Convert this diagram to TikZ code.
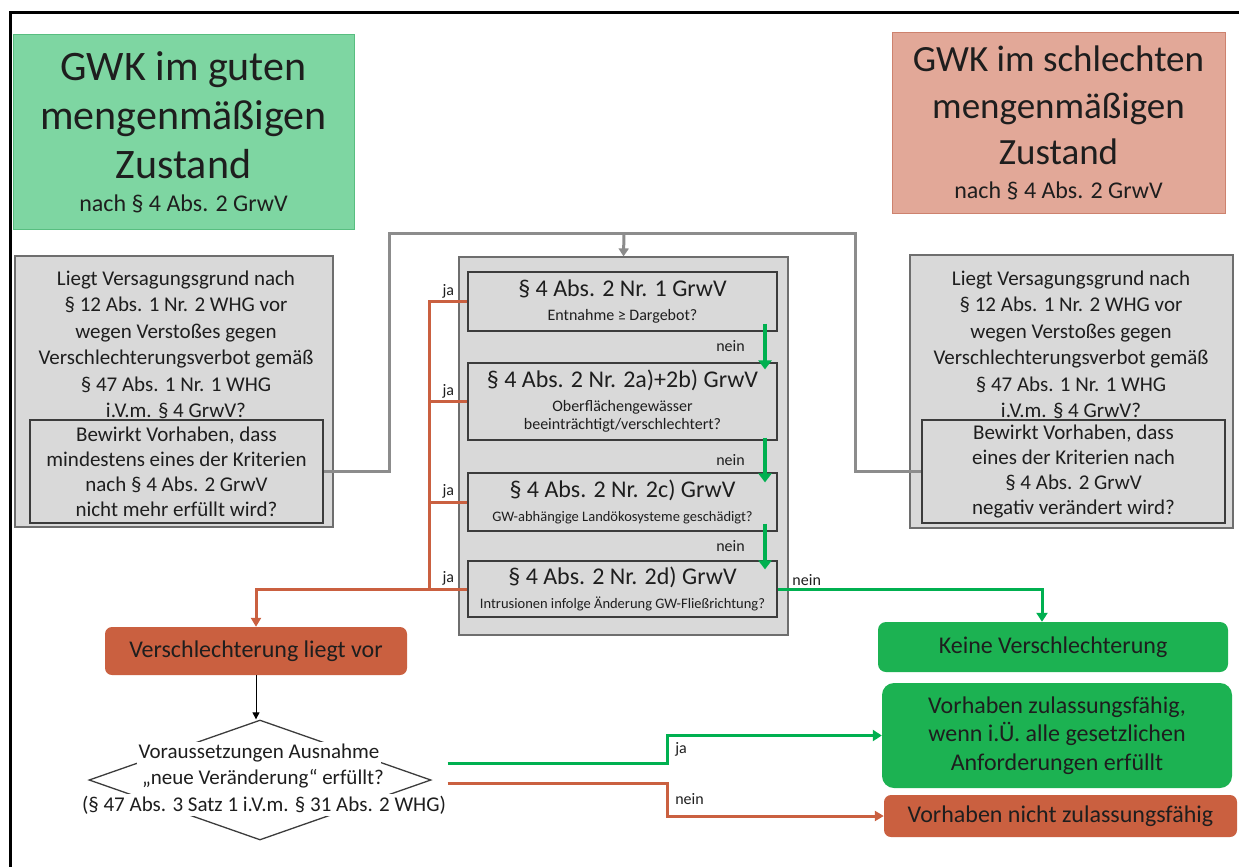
\documentclass[tikz,border=0pt]{standalone}
\usepackage{fontspec}
\setmainfont{Carlito}
\usetikzlibrary{arrows.meta,shapes.geometric}

\definecolor{ink}{RGB}{30,30,30}
\definecolor{gutfill}{RGB}{126,214,162}
\definecolor{gutline}{RGB}{88,190,128}
\definecolor{badfill}{RGB}{226,168,152}
\definecolor{badline}{RGB}{205,130,110}
\definecolor{boxgrey}{RGB}{217,217,217}
\definecolor{boxline}{RGB}{110,110,110}
\definecolor{qline}{RGB}{60,60,60}
\definecolor{conngrey}{RGB}{140,140,140}
\definecolor{okgreen}{RGB}{0,176,80}
\definecolor{okfill}{RGB}{28,178,82}
\definecolor{norange}{RGB}{202,96,64}

\newcommand\fstitle{\fontsize{42}{49}\selectfont}
\newcommand\fstitler{\fontsize{37}{46.5}\selectfont}
\newcommand\fsnach{\fontsize{24}{29}\selectfont}
\newcommand\fsgrey{\fontsize{21}{26.5}\selectfont}
\newcommand\fsques{\fontsize{21}{25}\selectfont}
\newcommand\fsmid{\fontsize{24}{29}\selectfont}
\newcommand\fsres{\fontsize{24}{28.5}\selectfont}
\newcommand\fssub{\fontsize{16}{18}\selectfont}
\newcommand\fstiny{\fontsize{14.5}{17}\selectfont}
\newcommand\fslbl{\fontsize{16}{19}\selectfont}

\begin{document}
\begin{tikzpicture}[x=1pt,y=-1pt,
  every node/.style={text=ink, align=center, inner sep=0pt},
  greybox/.style={draw=boxline, fill=boxgrey, line width=1.2pt},
  qbox/.style={draw=qline, fill=boxgrey, line width=1.2pt, font=\fsques},
  checkbox/.style={draw=qline, fill=boxgrey, line width=1.2pt, font=\fssub,
    minimum width=309pt},
  lbl/.style={font=\fslbl, inner sep=2pt},
  okbox/.style={fill=okfill, rounded corners=8pt, font=\fsres},
  nobox/.style={fill=norange, rounded corners=7pt, font=\fsmid},
  gline/.style={draw=conngrey, line width=3pt},
  oline/.style={draw=norange, line width=3pt},
  okline/.style={draw=okgreen, line width=3pt, -{Triangle[width=11pt,length=9pt]}},
  noline/.style={draw=norange, line width=3pt, -{Triangle[width=10pt,length=9pt]}},
  garrow/.style={draw=okgreen, line width=4.5pt, -{Triangle[width=13pt,length=9pt]}},
  dline/.style={fill=white, inner sep=2pt, font=\fsgrey}
]
\useasboundingbox (0,0) rectangle (1239,867);
% frame (cut at the right and at the bottom)
\draw[line width=3pt] (1250,13) -- (10,13) -- (10,880);

% the two states
\node[draw=gutline, fill=gutfill, line width=1pt, minimum width=341pt,
  minimum height=194pt, font=\fstitle] (gut) at (183.5,132)
  {GWK im guten\\mengenmäßigen\\Zustand\\[-16pt]{\fsnach nach § 4 Abs. 2 GrwV}};
\node[draw=badline, fill=badfill, line width=1pt, minimum width=333pt,
  minimum height=180pt, font=\fstitler] (bad) at (1058.5,123)
  {GWK im schlechten\\mengenmäßigen\\Zustand\\[-13pt]{\fsnach nach § 4 Abs. 2 GrwV}};

% left question
\node[greybox, minimum width=318pt, minimum height=271pt] (lbox) at (174,391.5) {};
\node[font=\fsgrey] (ltext) at (176,345) {Liegt Versagungsgrund nach\\§ 12 Abs. 1 Nr. 2 WHG vor\\wegen
  Verstoßes gegen\\Verschlechterungsverbot gemäß\\§ 47 Abs. 1 Nr. 1 WHG\\i.V.m. § 4 GrwV?};
\node[qbox, minimum width=293pt, minimum height=103pt] (lq) at (176.5,471.5)
  {Bewirkt Vorhaben, dass\\mindestens eines der Kriterien\\nach § 4 Abs. 2 GrwV\\nicht mehr erfüllt wird?};

% right question
\node[greybox, minimum width=323pt, minimum height=273pt] (rbox) at (1071.5,391.5) {};
\node[font=\fsgrey] (rtext) at (1071,345) {Liegt Versagungsgrund nach\\§ 12 Abs. 1 Nr. 2 WHG vor\\wegen
  Verstoßes gegen\\Verschlechterungsverbot gemäß\\§ 47 Abs. 1 Nr. 1 WHG\\i.V.m. § 4 GrwV?};
\node[qbox, minimum width=303pt, minimum height=103pt] (rq) at (1073.5,471.5)
  {Bewirkt Vorhaben, dass\\eines der Kriterien nach\\§ 4 Abs. 2 GrwV\\negativ verändert wird?};

% checks of § 4 Abs. 2 GrwV
\node[greybox, minimum width=329pt, minimum height=378pt] (mbox) at (623.5,446) {};
\node[checkbox, minimum height=59pt] (b1) at (622.5,301.5)
  {{\fsmid § 4 Abs. 2 Nr. 1 GrwV}\\[6pt]Entnahme ≥ Dargebot?};
\node[checkbox, minimum height=77pt] (b2) at (622.5,401.5)
  {{\fsmid § 4 Abs. 2 Nr. 2a)+2b) GrwV}\\[6pt]Oberflächengewässer\\beeinträchtigt/verschlechtert?};
\node[checkbox, minimum height=58pt] (b3) at (622.5,502)
  {{\fsmid § 4 Abs. 2 Nr. 2c) GrwV}\\[6pt]{\fstiny GW-abhängige Landökosysteme geschädigt?}};
\node[checkbox, minimum height=56pt] (b4) at (622.5,589)
  {{\fsmid § 4 Abs. 2 Nr. 2d) GrwV}\\[6pt]{\fstiny Intrusionen infolge Änderung GW-Fließrichtung?}};

% results
\node[nobox, minimum width=302pt, minimum height=48pt] (vl) at (256,651) {Verschlechterung liegt vor};
\node[okbox, minimum width=350pt, minimum height=50pt] (kv) at (1053,647) {Keine Verschlechterung};
\node[okbox, minimum width=350pt, minimum height=105pt, rounded corners=12pt] (vz) at (1057,735.5)
  {Vorhaben zulassungsfähig,\\wenn i.Ü. alle gesetzlichen\\Anforderungen erfüllt};
\node[nobox, minimum width=353pt, minimum height=42pt] (vn) at (1060.5,816) {Vorhaben nicht zulassungsfähig};

% exception test
\node[draw=qline, line width=1.3pt, shape=diamond, minimum width=342pt, minimum height=120pt] (dia) at (260,780) {};
\node[dline] (dl1) at (259,753) {Voraussetzungen Ausnahme};
\node[dline] (dl2) at (263,779) {„neue Veränderung“ erfüllt?};
\node[dline] (dl3) at (264,805) {(§ 47 Abs. 3 Satz 1 i.V.m. § 31 Abs. 2 WHG)};

% connectors
\coordinate (split) at (624,233);
\draw[gline] (lq.east) -| (389,233) -- (855,233) |- (rq.west);
\draw[gline, -{Triangle[width=10pt,length=8pt]}] (split) -- (mbox.north);

\draw[oline] (b1.west) -- ++(-38,0) node[lbl,midway,above]{ja} |- (b4.west);
\draw[oline] (b2.west) -- ++(-38,0) node[lbl,midway,above]{ja};
\draw[oline] (b3.west) -- ++(-38,0) node[lbl,midway,above]{ja};
\draw[noline] (b4.west) -- ++(-38,0) node[lbl,midway,above]{ja} -| (vl.north);

\draw[garrow] ([xshift=142.5pt,yshift=8pt]b1.south) -- ([xshift=142.5pt,yshift=-7pt]b2.north)
  node[lbl,midway,left=16pt]{nein};
\draw[garrow] ([xshift=142.5pt,yshift=3pt]b2.south) -- ([xshift=142.5pt,yshift=-10pt]b3.north)
  node[lbl,midway,left=16pt]{nein};
\draw[garrow] ([xshift=142.5pt,yshift=8pt]b3.south) -- ([xshift=142.5pt,yshift=-9pt]b4.north)
  node[lbl,midway,left=16pt]{nein};
\draw[okline] (b4.east) -| ([xshift=-11pt]kv.north) node[lbl,pos=0.055,above]{nein};

\draw[line width=1pt, -{Triangle[width=7pt,length=7pt]}] (vl.south) -- (vl.south |- dia.north);
\draw[okline] ([xshift=16pt,yshift=17pt]dia.east) -| ([xshift=-214pt]vz.west)
  node[lbl,pos=0.75,right=4pt]{ja} -- (vz.west);
\draw[noline] ([xshift=16pt,yshift=-3pt]dia.east) -| ([xshift=-216pt]vn.west)
  node[lbl,pos=0.75,right=4pt]{nein} -- (vn.west);
\end{tikzpicture}
\end{document}
